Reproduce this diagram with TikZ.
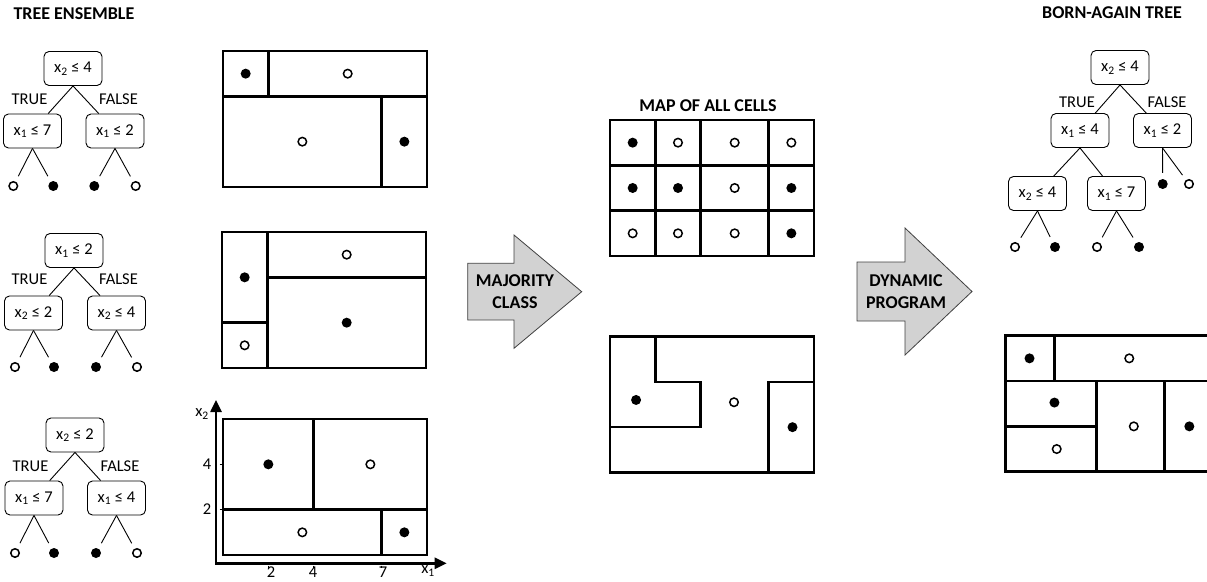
\documentclass[tikz,border=0pt]{standalone}
\usepackage{fontspec}
\setmainfont{Carlito}
\usetikzlibrary{arrows.meta}
\definecolor{arrowfill}{RGB}{210,210,210}
\definecolor{arrowline}{RGB}{64,64,64}
\newcommand{\xs}[1]{x\textsubscript{#1}}

\begin{document}
\begin{tikzpicture}[x=1pt, y=-1pt,
    font=\fontsize{16.5}{19}\selectfont,
    test/.style={draw, rounded corners=5pt, line width=0.9pt, minimum width=58pt, minimum height=34pt, inner sep=0pt},
    blk/.style={circle, fill=black, minimum size=10pt, inner sep=0pt},
    wht/.style={circle, draw, line width=1.5pt, minimum size=8.5pt, inner sep=0pt},
    twig/.style={line width=0.9pt},
    leaftwig/.style={line width=0.9pt, shorten >=6pt},
    region/.style={line width=2.5pt},
    title/.style={font=\fontsize{18}{22}\selectfont\bfseries},
    tick/.style={inner sep=0.5pt},
    bigarrow/.style={fill=arrowfill, draw=arrowline, line width=0.8pt}]
  \useasboundingbox (0,0) rectangle (1207,581);

  % headings
  \node[title, anchor=west] (ens) at (10,14) {TREE ENSEMBLE};
  \node[title] (born) at (1112,13) {BORN-AGAIN TREE};
  \node[title] (map) at (708,106) {MAP OF ALL CELLS};

  % tree 1
  \node[test] (t1) at (73,68.5) {\xs2 ≤ 4};
  \node[test] (t1a) at (32.5,131) {\xs1 ≤ 7};
  \node[test] (t1b) at (115,131) {\xs1 ≤ 2};
  \node (t1true) at (29.5,99) {TRUE};
  \node (t1false) at (118.5,99) {FALSE};
  \node[wht] (l11) at (13.3,186) {};
  \node[blk] (l12) at (53.3,186) {};
  \node[blk] (l13) at (94.3,186) {};
  \node[wht] (l14) at (135.7,186) {};
  \draw[twig] (t1.south) -- (t1a);
  \draw[twig] (t1.south) -- (t1b);
  \draw[leaftwig] (t1a.south) -- (l11);
  \draw[leaftwig] (t1a.south) -- (l12);
  \draw[leaftwig] (t1b.south) -- (l13);
  \draw[leaftwig] (t1b.south) -- (l14);

  % tree 2
  \node[test] (t2) at (74,250.5) {\xs1 ≤ 2};
  \node[test] (t2a) at (33.5,313) {\xs2 ≤ 2};
  \node[test] (t2b) at (116.5,313) {\xs2 ≤ 4};
  \node (t2true) at (29.5,279) {TRUE};
  \node (t2false) at (118.5,279) {FALSE};
  \node[wht] (l21) at (15,367) {};
  \node[blk] (l22) at (54,367) {};
  \node[blk] (l23) at (96,367) {};
  \node[wht] (l24) at (137,367) {};
  \draw[twig] (t2.south) -- (t2a);
  \draw[twig] (t2.south) -- (t2b);
  \draw[leaftwig] (t2a.south) -- (l21);
  \draw[leaftwig] (t2a.south) -- (l22);
  \draw[leaftwig] (t2b.south) -- (l23);
  \draw[leaftwig] (t2b.south) -- (l24);

  % tree 3
  \node[test] (t3) at (75,435) {\xs2 ≤ 2};
  \node[test] (t3a) at (34,498) {\xs1 ≤ 7};
  \node[test] (t3b) at (116.5,498) {\xs1 ≤ 4};
  \node (t3true) at (30.5,466) {TRUE};
  \node (t3false) at (120,466) {FALSE};
  \node[wht] (l31) at (15,553) {};
  \node[blk] (l32) at (54,553) {};
  \node[blk] (l33) at (96,553) {};
  \node[wht] (l34) at (137,553) {};
  \draw[twig] (t3.south) -- (t3a);
  \draw[twig] (t3.south) -- (t3b);
  \draw[leaftwig] (t3a.south) -- (l31);
  \draw[leaftwig] (t3a.south) -- (l32);
  \draw[leaftwig] (t3b.south) -- (l33);
  \draw[leaftwig] (t3b.south) -- (l34);

  % regions of the three trees
  \begin{scope}[shift={(223,187)}, x=22.67pt, y=22.67pt]
    \draw[region] (0,0) rectangle (9,6);
    \draw[region] (0,4) -- (9,4) (2,4) -- (2,6) (7,0) -- (7,4);
    \foreach \p in {(1,5),(8,2)} \fill \p circle (5pt);
    \foreach \p in {(5.5,5),(3.5,2)} \draw[line width=1.5pt] \p circle (4.25pt);
  \end{scope}
  \begin{scope}[shift={(222,368)}, x=22.67pt, y=22.67pt]
    \draw[region] (0,0) rectangle (9,6);
    \draw[region] (2,0) -- (2,6) (0,2) -- (2,2) (2,4) -- (9,4);
    \foreach \p in {(1,4),(5.5,2)} \fill \p circle (5pt);
    \foreach \p in {(1,1),(5.5,5)} \draw[line width=1.5pt] \p circle (4.25pt);
  \end{scope}
  \begin{scope}[shift={(223,555)}, x=22.67pt, y=22.67pt]
    \draw[region] (0,0) rectangle (9,6);
    \draw[region] (0,2) -- (9,2) (4,2) -- (4,6) (7,0) -- (7,2);
    \foreach \p in {(2,4),(8,1)} \fill \p circle (5pt);
    \foreach \p in {(6.5,4),(3.5,1)} \draw[line width=1.5pt] \p circle (4.25pt);
  \end{scope}

  % axes
  \draw[line width=2.5pt, {Triangle[length=12pt,width=11pt]}-{Triangle[length=12pt,width=11pt]}]
    (216,400) -- (216,563.3) -- (446.7,563.3);
  \foreach \y in {464,509} \draw[line width=1pt] (219.5,\y) -- (222,\y);
  \foreach \x in {268.3,313.7,381.7} \draw[line width=1pt] (\x,565.5) -- (\x,567.5);
  \node[tick] (ax2) at (202,414) {\xs2};
  \node[tick] (ax1) at (428,571) {\xs1};
  \node[tick] (y4) at (207,464) {4};
  \node[tick] (y2) at (207,509) {2};
  \node[tick] (x2) at (271,572.5) {2};
  \node[tick] (x4) at (313,572.5) {4};
  \node[tick] (x7) at (383,572.5) {7};

  % map of all cells
  \begin{scope}[shift={(610,256)}, x=22.67pt, y=22.67pt]
    \draw[region] (0,0) rectangle (9,6);
    \draw[region] (2,0) -- (2,6) (4,0) -- (4,6) (7,0) -- (7,6) (0,2) -- (9,2) (0,4) -- (9,4);
    \foreach \p in {(1,5),(1,3),(3,3),(8,3),(8,1)} \fill \p circle (5pt);
    \foreach \p in {(3,5),(5.5,5),(8,5),(5.5,3),(1,1),(3,1),(5.5,1)} \draw[line width=1.5pt] \p circle (4.25pt);
  \end{scope}

  % majority regions
  \begin{scope}[shift={(610,472.5)}, x=22.67pt, y=22.67pt]
    \draw[region] (0,0) rectangle (9,6);
    \draw[region] (2,6) -- (2,4) -- (4,4) -- (4,2) -- (0,2) (7,0) -- (7,4) -- (9,4);
    \foreach \p in {(1.15,3.2),(8.05,2)} \fill \p circle (5pt);
    \draw[line width=1.5pt] (5.47,3.1) circle (4.25pt);
  \end{scope}

  % born-again regions
  \begin{scope}[shift={(1005.7,471.7)}, x=22.67pt, y=22.67pt]
    \draw[region] (0,0) rectangle (9,6);
    \draw[region] (0,4) -- (9,4) (2.15,4) -- (2.15,6) (0,2) -- (4,2) (4,0) -- (4,4) (7,0) -- (7,4);
    \foreach \p in {(1.05,5),(2.15,3.05),(8.1,2)} \fill \p circle (5pt);
    \foreach \p in {(5.45,5),(2.25,1),(5.65,2)} \draw[line width=1.5pt] \p circle (4.25pt);
  \end{scope}

  % block arrows
  \draw[bigarrow] (467.7,263.3) -- (514,263.3) -- (514,235) -- (581.7,291.7)
    -- (514,348.3) -- (514,320) -- (467.7,320) -- cycle;
  \node[title, align=center] (maj) at (515,292) {MAJORITY\\CLASS};
  \draw[bigarrow] (857,262) -- (905,262) -- (905,228) -- (972,291.5)
    -- (905,355) -- (905,321) -- (857,321) -- cycle;
  \node[title, align=center] (dyn) at (906,292) {DYNAMIC\\PROGRAM};

  % born-again tree
  \node[test] (b) at (1120,67.5) {\xs2 ≤ 4};
  \node[test] (ba) at (1080,130.5) {\xs1 ≤ 4};
  \node[test] (bb) at (1162.5,130.5) {\xs1 ≤ 2};
  \node[test] (baa) at (1037.5,193.5) {\xs2 ≤ 4};
  \node[test] (bab) at (1116.5,193.5) {\xs1 ≤ 7};
  \node (btrue) at (1077,102) {TRUE};
  \node (bfalse) at (1167,102) {FALSE};
  \node[blk] (lb1) at (1162.7,184) {};
  \node[wht] (lb2) at (1189,184) {};
  \node[wht] (lb3) at (1015,247) {};
  \node[blk] (lb4) at (1055,247) {};
  \node[wht] (lb5) at (1097,247) {};
  \node[blk] (lb6) at (1139,247) {};
  \draw[twig] (b.south) -- (ba);
  \draw[twig] (b.south) -- (bb);
  \draw[twig] (ba.south) -- (baa);
  \draw[twig] (ba.south) -- (bab);
  \draw[leaftwig] (bb.south) -- (lb1);
  \draw[leaftwig] (bb.south) -- (lb2);
  \draw[leaftwig] (baa.south) -- (lb3);
  \draw[leaftwig] (baa.south) -- (lb4);
  \draw[leaftwig] (bab.south) -- (lb5);
  \draw[leaftwig] (bab.south) -- (lb6);
\end{tikzpicture}
\end{document}
